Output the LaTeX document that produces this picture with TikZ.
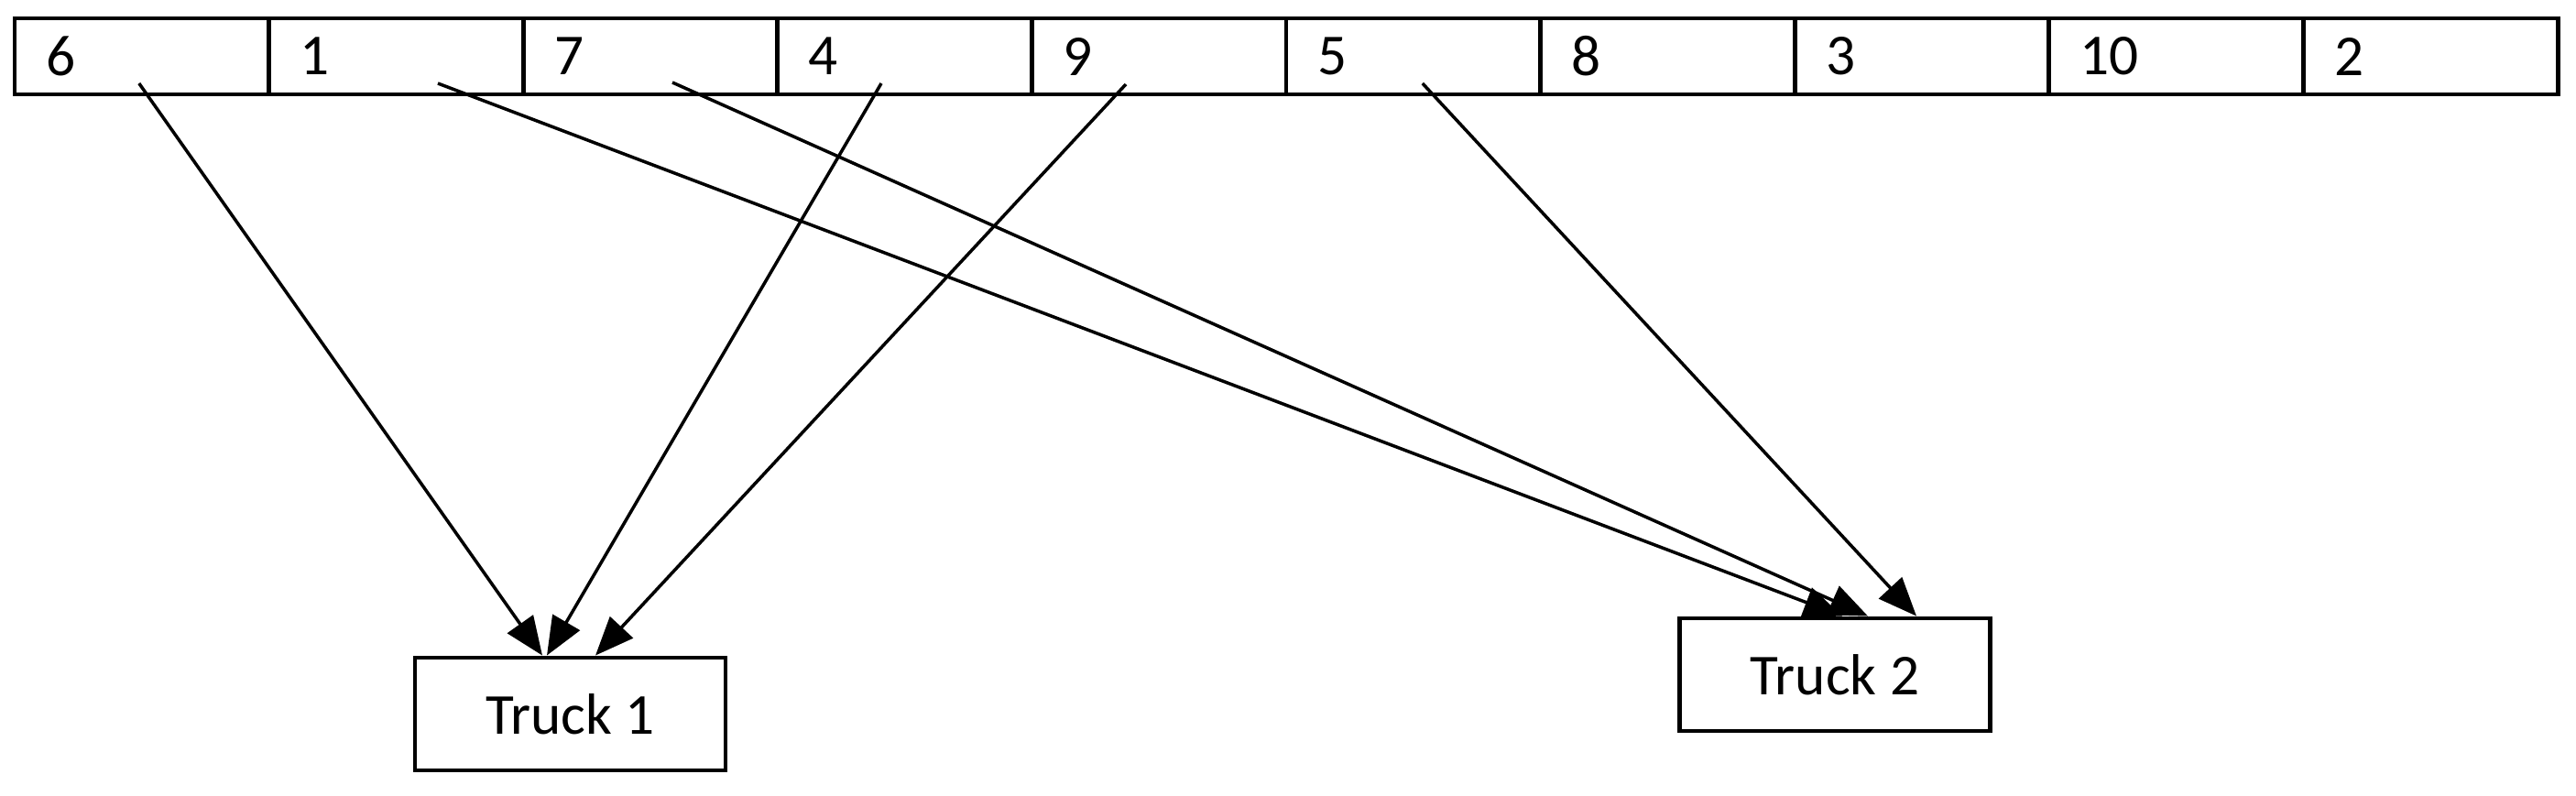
\documentclass[tikz,border=0pt]{standalone}
\usepackage{fontspec}
\setmainfont{Carlito}
\usetikzlibrary{arrows.meta}
\begin{document}
\begin{tikzpicture}[
		cell/.style={draw,line width=1.4pt,outer sep=0pt,minimum height=0.83cm,
			text width=2.096cm,inner xsep=0.34cm,align=left,font=\fontsize{18}{21.6}\selectfont},
		truck/.style={draw,line width=1.4pt,minimum width=3.39cm,minimum height=1.23cm,
			font=\fontsize{18}{21.6}\selectfont},
		link/.style={line width=1pt,-{Triangle[length=0.42cm,width=0.34cm]}}]
			\useasboundingbox(0,0)rectangle(28.12,-8.68);
			\node[cell](n6)at(1.548,-0.615){6};
			\node[cell](n1)at(4.324,-0.615){1};
			\node[cell](n7)at(7.100,-0.615){7};
			\node[cell](n4)at(9.876,-0.615){4};
			\node[cell](n9)at(12.652,-0.615){9};
			\node[cell](n5)at(15.428,-0.615){5};
			\node[cell](n8)at(18.204,-0.615){8};
			\node[cell](n3)at(20.980,-0.615){3};
			\node[cell](n10)at(23.756,-0.615){10};
			\node[cell](n2)at(26.532,-0.615){2};
			\node[truck](t1)at(6.225,-7.795){Truck 1};
			\node[truck](t2)at(20.03,-7.365){Truck 2};
			\draw[link]([xshift=-0.03cm,yshift=0.12cm]n6.south)--([xshift=-0.305cm]t1.north);
			\draw[link]([xshift=-0.256cm,yshift=0.12cm]n4.south)--([xshift=-0.255cm]t1.north);
			\draw[link]([xshift=-0.362cm,yshift=0.11cm]n9.south)--([xshift=0.275cm]t1.north);
			\draw[link]([xshift=0.456cm,yshift=0.12cm]n1.south)--([xshift=0.08cm]t2.north);
			\draw[link]([xshift=0.24cm,yshift=0.13cm]n7.south)--([xshift=0.36cm]t2.north);
			\draw[link]([xshift=0.10cm,yshift=0.12cm]n5.south)--([xshift=0.89cm]t2.north);
		\end{tikzpicture}
\end{document}
